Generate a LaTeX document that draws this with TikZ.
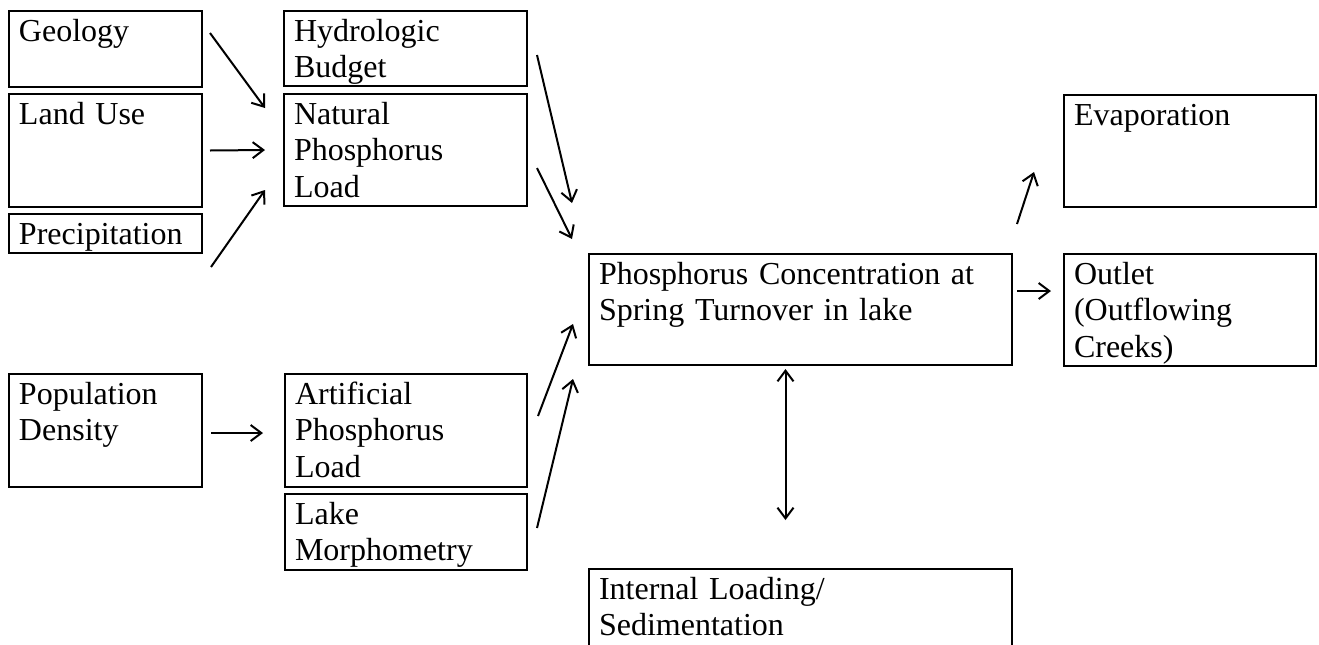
\documentclass[tikz,border=0pt]{standalone}
\usepackage{fontspec}
\setmainfont{Liberation Serif}
\usetikzlibrary{arrows.meta,calc}

\begin{document}
\begin{tikzpicture}[
            x=0.375pt, y=-0.375pt,
            blk/.style 2 args={draw, line width=0.75pt, anchor=north west, align=left, inner xsep=3.75pt, inner ysep=1.5pt, text width=#1, text height=9.75pt, text depth=#2, font=\fontsize{12}{13.8}\selectfont},
            flow/.style={-{Straight Barb[length=4pt,width=6pt]}, line width=0.75pt},
            both/.style={{Straight Barb[length=4pt,width=6pt]}-{Straight Barb[length=4pt,width=6pt]}, line width=0.75pt}
            ]
            \useasboundingbox (0,0) rectangle (1319,644);
            
            % Sources
            \node[blk={64.875pt}{15.75pt}] (geo) at (8,10) {Geology};
            \node[blk={64.875pt}{29.625pt}] (land) at (8,93) {Land Use};
            \node[blk={64.875pt}{1.875pt}] (prec) at (8,213) {Precipitation};
            \node[blk={64.875pt}{29.625pt}] (pop) at (8,373) {Population\\Density};
            
            % Loads
            \node[blk={83.625pt}{15.375pt}] (hyd) at (283,10) {Hydrologic\\Budget};
            \node[blk={83.625pt}{29.25pt}] (nat) at (283,93) {Natural\\Phosphorus\\Load};
            \node[blk={83.25pt}{29.625pt}] (art) at (284,373) {Artificial\\Phosphorus\\Load};
            \node[blk={83.25pt}{15.75pt}] (lake) at (284,493) {Lake\\Morphometry};
            
            % Lake
            \node[blk={151.125pt}{28.875pt}] (conc) at (588,253) {Phosphorus Concentration at\\Spring Turnover in lake};
            \node[blk={151.125pt}{17.25pt}] (intl) at (588,568) {Internal Loading/\\Sedimentation};
            
            % Losses
            \node[blk={87pt}{29.25pt}] (evap) at (1063,94) {Evaporation};
            \node[blk={87pt}{29.25pt}] (out) at (1063,253) {Outlet\\(Outflowing\\Creeks)};
            
            % Arrows
            \draw[flow] ($(geo.north east)+(7,23)$) -- ($(nat.north west)+(-18,15)$);
            \draw[flow] ($(land.east)+(7,0)$) -- ($(nat.west)+(-18,0)$);
            \draw[flow] ($(prec.south east)+(8,13)$) -- ($(nat.south west)+(-18,-17)$);
            \draw[flow] ($(pop.east)+(8,2.5)$) -- ($(art.west)+(-21,2.5)$);
            \draw[flow] ($(hyd.east)+(9,6.5)$) -- ($(conc.north west)+(-16,-50)$);
            \draw[flow] ($(nat.east)+(9,18)$) -- ($(conc.north west)+(-16,-14)$);
            \draw[flow] ($(art.east)+(10,-14.5)$) -- ($(conc.west)+(-15,14.5)$);
            \draw[flow] ($(lake.east)+(9,-4)$) -- ($(conc.south west)+(-15,13)$);
            \draw[both] ($(conc.south)+(-15,3)$) -- ($(intl.north)+(-15,-48)$);
            \draw[flow] ($(conc.north east)+(4,-29)$) -- ($(evap.south west)+(-29,-36)$);
            \draw[flow] ($(conc.east)+(4,-18.5)$) -- ($(out.west)+(-12,-19)$);
            
        \end{tikzpicture}
\end{document}
